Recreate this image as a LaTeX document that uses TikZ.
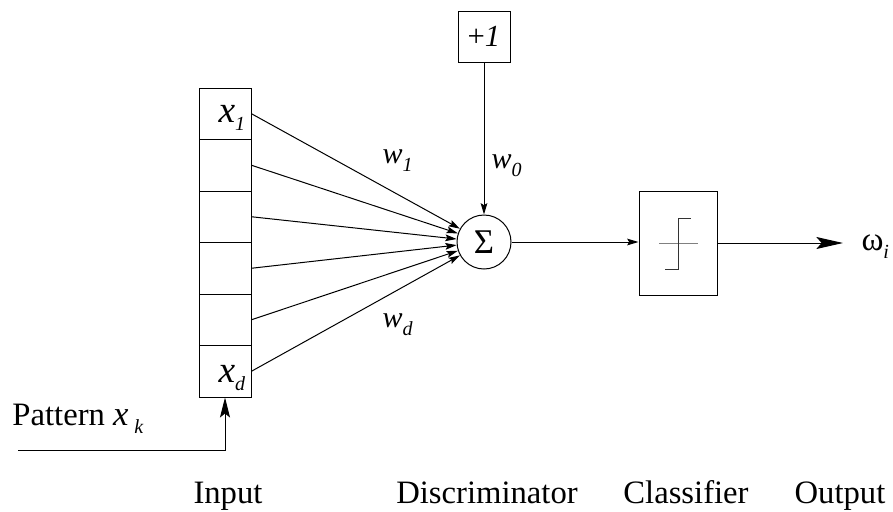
\documentclass[tikz,border=0pt]{standalone}
\usepackage{fontspec}
\setmainfont{Liberation Serif}
\usetikzlibrary{arrows.meta}
\newcommand{\mysub}[1]{\raisebox{-6pt}{\fontsize{15}{15}\selectfont\itshape #1}}
\begin{document}
\begin{tikzpicture}[x=0.75pt,y=-0.75pt,line width=0.75pt,
  cell/.style={draw,minimum width=39pt,minimum height=38.625pt,inner sep=0pt},
  lbl/.style={anchor=base west,inner sep=0pt},
  blbl/.style={anchor=base,inner sep=0pt,font=\fontsize{24.5}{28}\selectfont},
  small/.style={-{Stealth[length=8.5pt,width=5pt,inset=1.5pt]}},
  big/.style={-{Stealth[length=20pt,width=9pt,inset=4pt]}},
  mid/.style={-{Stealth[length=15pt,width=7.5pt,inset=3pt]}}]
\useasboundingbox (0,0) rectangle (893,511);
% input cells
\node[cell] (c1) at (225,113.75) {};
\node[cell] (c2) at (225,165.25) {};
\node[cell] (c3) at (225,216.75) {};
\node[cell] (c4) at (225,268.25) {};
\node[cell] (c5) at (225,319.75) {};
\node[cell] (c6) at (225,371.25) {};
\node[lbl] (x1) at (218,122) {\fontsize{28}{28}\selectfont\itshape x\mysub{1}};
\node[lbl] (xd) at (218,382) {\fontsize{28}{28}\selectfont\itshape x\mysub{d}};
% summation
\node[draw,circle,minimum size=40.5pt,inner sep=0pt] (sum) at (484,242) {\fontsize{26}{26}\selectfont Σ};
% bias
\node[draw,minimum width=39pt,minimum height=38.25pt,inner sep=0pt] (plus) at (484,36.5) {\fontsize{23}{23}\selectfont +\textit{1}};
% classifier
\node[draw,minimum width=58.5pt,minimum height=78pt,inner sep=0pt] (cls) at (678,243) {};
\coordinate (hl) at (659,243);
\coordinate (hr) at (698,243);
\draw[gray] (hl) -- (hr);
\coordinate (s1) at (665,269);
\coordinate (s2) at (678,269);
\coordinate (s3) at (678,218);
\coordinate (s4) at (691,218);
\draw[black!80] (s1) -- (s2) -- (s3) -- (s4);
% connections
\foreach \i in {1,...,6} \draw[small] (c\i.east) -- (sum);
\draw[small] (plus.south) -- (sum.north);
\draw[small] (sum.east) -- (sum.east -| cls.west);
\coordinate (oend) at (843,243);
\draw[big] (cls.east) -- (oend);
\coordinate (pstart) at (18,450);
\draw[mid] (pstart) -- (pstart -| c6.south) -- (c6.south);
% weight labels
\node[lbl] (w1) at (382,163) {\fontsize{22.5}{22.5}\selectfont\itshape w\mysub{1}};
\node[lbl] (w0) at (491,168) {\fontsize{22.5}{22.5}\selectfont\itshape w\mysub{0}};
\node[lbl] (wd) at (382,327) {\fontsize{22.5}{22.5}\selectfont\itshape w\mysub{d}};
\node[lbl] (om) at (861,250) {\fontsize{25}{25}\selectfont ω\raisebox{-6pt}{\fontsize{15}{15}\selectfont\itshape i}};
\node[lbl] (pat) at (12,425) {\fontsize{24.5}{28}\selectfont Pattern \fontsize{26}{28}\selectfont\itshape x\,\mysub{k}};
% bottom labels
\node[blbl] (lin) at (228,503) {Input};
\node[blbl] (ldi) at (487,503) {Discriminator};
\node[blbl] (lcl) at (686,503) {Classifier};
\node[blbl] (lou) at (840,503) {Output};
\end{tikzpicture}
\end{document}
